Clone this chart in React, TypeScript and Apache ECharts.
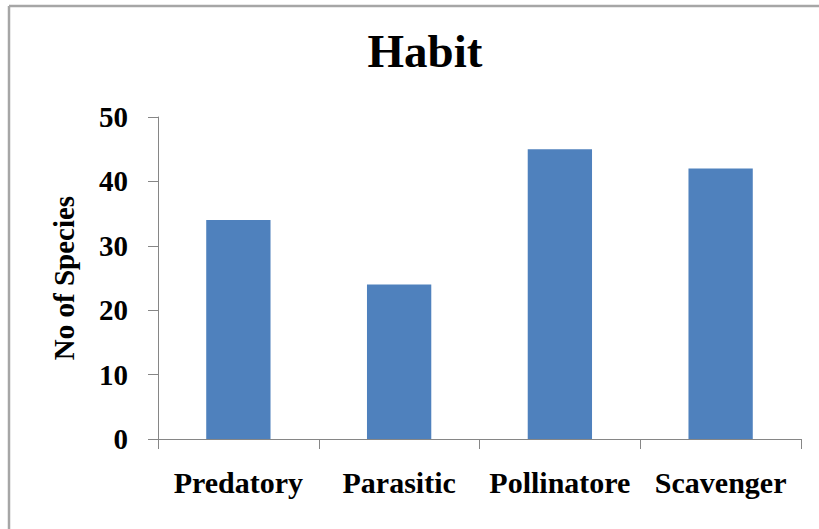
import React, { useEffect, useRef } from "react";
import * as echarts from "echarts";

const categories = ["Predatory", "Parasitic", "Pollinatore", "Scavenger"];
const speciesCounts = [34, 24, 45, 42];
const yTicks = { min: 0, max: 50, interval: 10 };

const FONT = "'Liberation Serif', 'Times New Roman', serif";

export default function App() {
  const ref = useRef<HTMLDivElement>(null);
  useEffect(() => {
    if (!ref.current) return;
    const chart = echarts.init(ref.current, undefined, { renderer: "svg" });
    chart.setOption({
      animation: false,
      backgroundColor: "#ffffff",
      title: {
        text: "Habit",
        left: 420,
        textAlign: "center",
        top: 22,
        textStyle: { fontFamily: FONT, fontSize: 47, fontWeight: "bold", color: "#000" },
      },
      graphic: [
        {
          type: "line",
          shape: { x1: 9, y1: 6, x2: 9, y2: 529 },
          style: { stroke: "#a6a6a6", lineWidth: 2.5 },
          silent: true,
        },
        {
          type: "line",
          shape: { x1: 9, y1: 6, x2: 819, y2: 6 },
          style: { stroke: "#a6a6a6", lineWidth: 2.5 },
          silent: true,
        },
      ],
      grid: { left: 158, right: 18, top: 117, bottom: 90, containLabel: false },
      xAxis: {
        type: "category",
        data: categories,
        axisLine: { show: true, lineStyle: { color: "#868686", width: 1 } },
        axisTick: { show: true, length: 10, lineStyle: { color: "#868686" } },
        axisLabel: {
          margin: 28,
          fontFamily: FONT,
          fontSize: 30,
          fontWeight: "bold",
          color: "#000",
          interval: 0,
        },
      },
      yAxis: {
        type: "value",
        min: yTicks.min,
        max: yTicks.max,
        interval: yTicks.interval,
        name: "No of Species",
        nameLocation: "middle",
        nameGap: 80,
        nameRotate: 90,
        nameTextStyle: { fontFamily: FONT, fontSize: 29, fontWeight: "bold", color: "#000" },
        splitLine: { show: false },
        axisLine: { show: true, lineStyle: { color: "#868686", width: 1 } },
        axisTick: { show: true, length: 10, lineStyle: { color: "#868686" } },
        axisLabel: {
          margin: 30,
          fontFamily: FONT,
          fontSize: 29,
          fontWeight: "bold",
          color: "#000",
        },
      },
      series: [
        {
          type: "bar",
          data: speciesCounts,
          barWidth: "40%",
          itemStyle: { color: "#4F81BD" },
        },
      ],
    });
    return () => chart.dispose();
  }, []);
  return (
    <div
      ref={ref}
      style={{ position: "absolute", left: 0, top: 0, width: 819, height: 529 }}
    />
  );
}
